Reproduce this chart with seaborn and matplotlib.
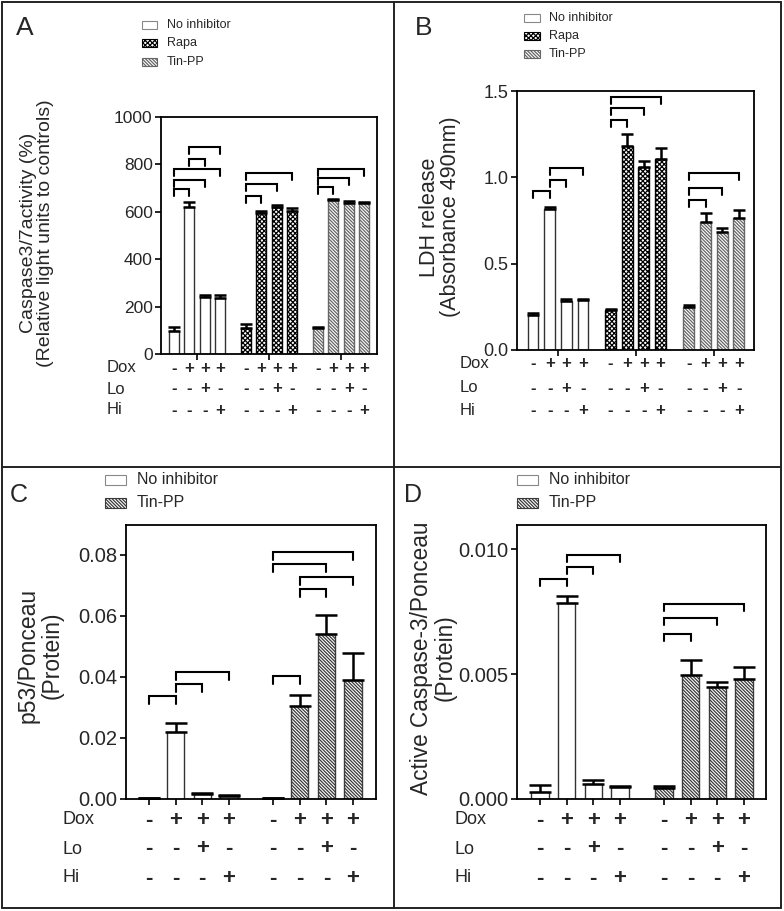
import numpy as np
import matplotlib
matplotlib.use("Agg")
import matplotlib.pyplot as plt
import matplotlib.transforms as mtransforms
from matplotlib.patches import Rectangle
import seaborn as sns

# ---- data ----
groups_3 = ["No inhibitor", "Rapa", "Tin-PP"]
groups_2 = ["No inhibitor", "Tin-PP"]
dox = ["-", "+", "+", "+"]
lo = ["-", "-", "+", "-"]
hi = ["-", "-", "-", "+"]

# A: Caspase3/7 activity (%)
a_none = [98, 619, 239, 235]
a_none_err = [15, 24, 9, 14]
a_rapa = [111, 594, 621, 603]
a_rapa_err = [16, 9, 7, 14]
a_tin = [108, 650, 638, 638]
a_tin_err = [5, 5, 7, 4]
a_brackets = [(0, 1, 696), (0, 2, 734), (0, 3, 780), (1, 2, 823), (1, 3, 873),
              (4, 5, 667), (4, 6, 717), (4, 7, 764),
              (8, 9, 705), (8, 10, 743), (8, 11, 780)]

# B: LDH release
b_none = [0.205, 0.815, 0.285, 0.29]
b_none_err = [0.008, 0.015, 0.01, 0.005]
b_rapa = [0.232, 1.18, 1.06, 1.105]
b_rapa_err = [0.008, 0.07, 0.035, 0.065]
b_tin = [0.25, 0.743, 0.685, 0.766]
b_tin_err = [0.008, 0.052, 0.023, 0.045]
b_brackets = [(0, 1, 0.919), (1, 2, 0.982), (1, 3, 1.056),
              (4, 5, 1.33), (4, 6, 1.40), (4, 7, 1.467),
              (8, 9, 0.87), (8, 10, 0.94), (8, 11, 1.027)]

# C: p53/Ponceau
c_none = [0.0002, 0.0219, 0.0015, 0.0011]
c_none_err = [0.0002, 0.003, 0.0004, 0.0002]
c_tin = [0.0002, 0.0306, 0.054, 0.039]
c_tin_err = [0.0001, 0.0035, 0.0063, 0.0088]
c_brackets = [(0, 1, 0.0336), (1, 2, 0.0378), (1, 3, 0.0415),
              (4, 5, 0.0404), (5, 6, 0.0687), (5, 7, 0.0727),
              (4, 6, 0.077), (4, 7, 0.081)]

# D: Active Caspase-3/Ponceau
d_none = [0.00028, 0.00786, 0.0006, 0.00049]
d_none_err = [0.0003, 0.00025, 0.00017, 0.00003]
d_tin = [0.00044, 0.00497, 0.00448, 0.00481]
d_tin_err = [0.0001, 0.0006, 0.00022, 0.00048]
d_brackets = [(0, 1, 0.00881), (1, 2, 0.00928), (1, 3, 0.00977),
              (4, 5, 0.00661), (4, 6, 0.00724), (4, 7, 0.00781)]

# ---- layout helpers (pixel -> figure fraction) ----
W, H = 784, 911
sns.set_style("ticks")
plt.rcParams["font.family"] = ["Liberation Sans", "DejaVu Sans"]
plt.rcParams["hatch.linewidth"] = 0.9

fig = plt.figure(figsize=(W / 100, H / 100), dpi=100)


def fx(x):
    return x / W


def fy(y):
    return 1 - y / H


def axes_px(l, t, r, b):
    return fig.add_axes([fx(l), fy(b), (r - l) / W, (b - t) / H])


# panel frame
for (x0, y0, x1, y1) in [(2, 1.5, 781, 1.5), (2, 908, 781, 908), (2, 1.5, 2, 908),
                         (781, 1.5, 781, 908), (394, 1.5, 394, 908), (2, 467, 781, 467)]:
    fig.add_artist(plt.Line2D([fx(x0), fx(x1)], [fy(y0), fy(y1)], color="#222222", lw=1.4))

diag = "\\" * 10
styles = {
    "No inhibitor": dict(color="white", edgecolor="#333333", hatch=None),
    "Rapa": dict(color="white", edgecolor="black", hatch="xxxxxxx"),
    "Tin-PP": dict(color="white", edgecolor="#666666", hatch=diag),
}
styles_dark = dict(styles)
styles_dark["Tin-PP"] = dict(color="white", edgecolor="#3a3a3a", hatch=diag)


def draw_panel(ax, positions, series, names, sty, ylim, yticks, fmt, tick_fs,
               capsize, brackets, drop, bar_ticks):
    for pos, (vals, errs), name in zip(positions, series, names):
        s = sty[name]
        sns.barplot(x=pos, y=vals, native_scale=True, width=0.65, color=s["color"],
                    saturation=1, edgecolor=s["edgecolor"], linewidth=1.0,
                    hatch=s["hatch"], errorbar=None, ax=ax)
        ax.errorbar(pos, vals, yerr=[np.zeros(len(vals)), errs], fmt="none",
                    ecolor="black", elinewidth=1.8, capsize=capsize, capthick=1.8,
                    zorder=1)
    allpos = np.concatenate(positions)
    for i, j, y in brackets:
        x1, x2 = allpos[i], allpos[j]
        ax.plot([x1, x1, x2, x2], [y - drop, y, y, y - drop], color="black",
                lw=1.5, solid_joinstyle="miter")
    ax.set_ylim(*ylim)
    ax.set_yticks(yticks)
    ax.set_yticklabels([fmt.format(v) for v in yticks], fontsize=tick_fs)
    if bar_ticks:
        ax.set_xticks(allpos)
    else:
        ax.set_xticks([p[1] + 0.5 for p in positions])
    ax.set_xticklabels([])
    ax.tick_params(axis="both", direction="out", length=4, width=1.2, color="black", pad=2)
    for sp in ax.spines.values():
        sp.set_visible(True)
        sp.set_linewidth(1.3)
        sp.set_color("black")
    ax.set_xlabel("")
    ax.set_ylabel("")
    return allpos


def sign_rows(ax, allpos, label_x, rows_y, fs, bold):
    trans = mtransforms.blended_transform_factory(ax.transData, fig.transFigure)
    for lab, signs, yy in zip(["Dox", "Lo", "Hi"], [dox, lo, hi], rows_y):
        fig.text(fx(label_x), fy(yy), lab, fontsize=fs - (1 if bold else 0),
                 ha="left", va="center")
        for k, x in enumerate(allpos):
            ax.text(x, fy(yy), signs[k % 4], transform=trans, ha="center", va="center",
                    fontsize=fs + (2 if bold else 0), fontweight="bold")


def legend_px(names, sty, x0, x1, ys, ph, text_x, fs):
    for name, y in zip(names, ys):
        s = sty[name]
        fig.add_artist(Rectangle((fx(x0), fy(y + ph / 2)), (x1 - x0) / W, ph / H,
                                 transform=fig.transFigure, facecolor="white",
                                 edgecolor=s["edgecolor"] if s["hatch"] else "#888888",
                                 hatch=s["hatch"], lw=0.8))
        fig.text(fx(text_x), fy(y), name, fontsize=fs, ha="left", va="center")


# ---- Panel A ----
posA = [np.array([0, 1, 2, 3]) + off for off in (0.0, 4.7, 9.4)]
axA = axes_px(161, 117, 377, 354)
allA = draw_panel(axA, posA, [(a_none, a_none_err), (a_rapa, a_rapa_err), (a_tin, a_tin_err)],
                  groups_3, styles, (0, 1000), [0, 200, 400, 600, 800, 1000], "{:.0f}", 12.5,
                  4.5, a_brackets, 30, False)
axA.set_xlim(-0.85, 13.25)
sign_rows(axA, allA, 107, [368, 389, 410], 12, False)
fig.text(fx(37), fy(233), "Caspase3/7activity (%)\n(Relative light units to controls)",
         rotation=90, ha="center", va="center", fontsize=14, multialignment="center",
         linespacing=1.05)
legend_px(groups_3, styles, 142, 157, [25, 43, 62], 8, 167, 9)
fig.text(fx(16), fy(35), "A", fontsize=19, ha="left", va="baseline")

# ---- Panel B ----
posB = [np.array([0, 1, 2, 3]) + off for off in (0.0, 4.65, 9.35)]
axB = axes_px(517, 91, 754, 350)
allB = draw_panel(axB, posB, [(b_none, b_none_err), (b_rapa, b_rapa_err), (b_tin, b_tin_err)],
                  groups_3, styles, (0, 1.5), [0.0, 0.5, 1.0, 1.5], "{:.1f}", 13,
                  4.5, b_brackets, 0.04, False)
axB.set_xlim(-0.96, 13.26)
sign_rows(axB, allB, 460, [364, 388, 411], 12, False)
fig.text(fx(440), fy(217), "LDH release\n(Absorbance 490nm)",
         rotation=90, ha="center", va="center", fontsize=15.5, multialignment="center",
         linespacing=1.05)
legend_px(groups_3, styles, 524, 540, [18, 36, 54], 8, 549, 9)
fig.text(fx(415), fy(35), "B", fontsize=19, ha="left", va="baseline")

# ---- Panel C ----
posC = [np.array([0, 1, 2, 3]) + off for off in (0.0, 4.65)]
axC = axes_px(126, 525, 376, 799)
allC = draw_panel(axC, posC, [(c_none, c_none_err), (c_tin, c_tin_err)],
                  groups_2, styles_dark, (0, 0.0898), [0.0, 0.02, 0.04, 0.06, 0.08], "{:.2f}", 14.5,
                  8, c_brackets, 0.0026, True)
axC.set_xlim(-0.86, 8.51)
sign_rows(axC, allC, 63, [820, 849, 878], 14, True)
fig.text(fx(40), fy(655), "p53/Ponceau\n(Protein)",
         rotation=90, ha="center", va="center", fontsize=16.5, multialignment="center",
         linespacing=1.05)
legend_px(groups_2, styles_dark, 105, 126, [480, 503], 10, 137, 11.5)
fig.text(fx(10), fy(502), "C", fontsize=18, ha="left", va="baseline")

# ---- Panel D ----
posD = [np.array([0, 1, 2, 3]) + off for off in (0.0, 4.65)]
axD = axes_px(517, 525, 766, 799)
allD = draw_panel(axD, posD, [(d_none, d_none_err), (d_tin, d_tin_err)],
                  groups_2, styles_dark, (0, 0.01097), [0.0, 0.005, 0.010], "{:.3f}", 14.5,
                  8, d_brackets, 0.00028, True)
axD.set_xlim(-0.86, 8.48)
sign_rows(axD, allD, 454, [820, 849, 878], 14, True)
fig.text(fx(433), fy(658), "Active Caspase-3/Ponceau\n(Protein)",
         rotation=90, ha="center", va="center", fontsize=16.3, multialignment="center",
         linespacing=1.05)
legend_px(groups_2, styles_dark, 517, 538, [480, 503], 10, 549, 11.5)
fig.text(fx(404), fy(502), "D", fontsize=18, ha="left", va="baseline")

fig.savefig("out.png", dpi=100)
